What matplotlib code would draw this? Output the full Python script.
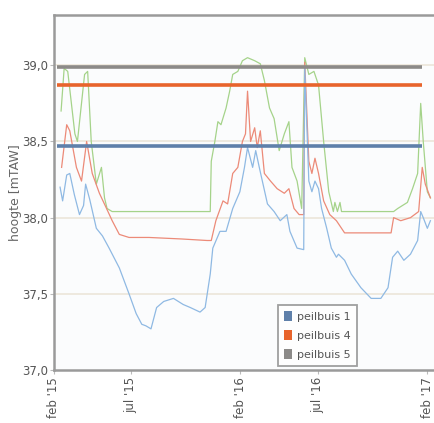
import datetime as dt
import matplotlib
matplotlib.use("Agg")
import matplotlib.pyplot as plt
from matplotlib.patches import Patch

plt.rcParams['font.family'] = ['Liberation Sans Narrow', 'DejaVu Sans']

START = dt.date(2015, 2, 1)

# ---- data (days since 1 Feb 2015, groundwater level m TAW) ----
p1_days = [12, 17, 25, 31, 40, 50, 58, 62, 70, 83, 95, 108, 128, 147, 161, 172, 180, 190,
           201, 215, 234, 253, 267, 286, 296, 306, 311, 325, 337, 350, 364, 373, 379, 389,
           395, 402, 408, 418, 431, 443, 456, 462, 476, 489, 491, 499, 505, 511, 518, 524,
           534, 543, 553, 557, 569, 582, 601, 621, 640, 654, 663, 673, 685, 698, 712, 718,
           723, 731, 737]
p1_vals = [38.20, 38.11, 38.28, 38.29, 38.15, 38.02, 38.08, 38.22, 38.12, 37.93, 37.88, 37.80,
           37.67, 37.50, 37.37, 37.30, 37.29, 37.27, 37.41, 37.45, 37.47, 37.43, 37.41, 37.38,
           37.41, 37.63, 37.80, 37.91, 37.91, 38.06, 38.17, 38.33, 38.46, 38.33, 38.44, 38.33,
           38.24, 38.09, 38.04, 37.98, 38.02, 37.91, 37.80, 37.79, 38.98, 38.24, 38.17, 38.24,
           38.19, 38.06, 37.93, 37.80, 37.74, 37.76, 37.72, 37.63, 37.54, 37.47, 37.47, 37.54,
           37.74, 37.78, 37.72, 37.76, 37.85, 38.04, 38.00, 37.93, 37.98]

p4_days = [15, 25, 31, 44, 54, 64, 75, 89, 103, 114, 128, 147, 186, 250, 300, 308, 317, 331,
           340, 350, 360, 369, 375, 379, 385, 393, 398, 404, 412, 424, 437, 451, 460, 470,
           480, 489, 491, 499, 505, 511, 518, 528, 540, 553, 569, 607, 660, 665, 679, 698,
           714, 721, 727, 737]
p4_vals = [38.33, 38.61, 38.57, 38.33, 38.24, 38.50, 38.29, 38.16, 38.06, 37.98, 37.89, 37.87,
           37.87, 37.86, 37.85, 37.85, 37.98, 38.11, 38.09, 38.29, 38.33, 38.50, 38.55, 38.83,
           38.50, 38.59, 38.46, 38.57, 38.29, 38.24, 38.19, 38.16, 38.19, 38.06, 38.02, 38.02,
           39.02, 38.37, 38.29, 38.39, 38.29, 38.11, 38.02, 37.98, 37.90, 37.90, 37.90, 38.00,
           37.98, 38.00, 38.04, 38.33, 38.22, 38.13]

p5_days = [14, 20, 27, 41, 46, 60, 66, 73, 83, 93, 99, 104, 114, 200, 306, 308, 315, 321,
           327, 337, 344, 350, 360, 369, 379, 393, 404, 412, 422, 431, 441, 451, 460, 466,
           476, 485, 491, 499, 509, 518, 528, 538, 547, 550, 555, 560, 563, 620, 665, 673,
           692, 702, 712, 718, 723, 731, 737]
p5_vals = [38.70, 38.98, 38.96, 38.55, 38.50, 38.94, 38.96, 38.50, 38.22, 38.33, 38.13, 38.06,
           38.04, 38.04, 38.04, 38.37, 38.50, 38.63, 38.61, 38.72, 38.83, 38.94, 38.96, 39.03,
           39.05, 39.03, 39.01, 38.90, 38.72, 38.65, 38.44, 38.55, 38.63, 38.33, 38.24, 38.06,
           39.05, 38.94, 38.96, 38.87, 38.50, 38.17, 38.04, 38.10, 38.04, 38.10, 38.04, 38.04,
           38.04, 38.06, 38.10, 38.19, 38.29, 38.75, 38.50, 38.17, 38.13]

# reference levels (horizontal bars)
ref_names = ['peilbuis 1', 'peilbuis 4', 'peilbuis 5']
ref_levels = [38.47, 38.87, 38.99]
ref_span_days = [6, 721]

xtick_dates = [dt.date(2015, 2, 1), dt.date(2015, 7, 1), dt.date(2016, 2, 1),
               dt.date(2016, 7, 1), dt.date(2017, 2, 1)]
xtick_labels = ["feb '15", "jul '15", "feb '16", "jul '16", "feb '17"]
ytick_vals = [37.0, 37.5, 38.0, 38.5, 39.0]
ytick_labels = ['37,0', '37,5', '38,0', '38,5', '39,0']


def to_dates(days):
    return [START + dt.timedelta(days=d) for d in days]


fig = plt.figure(figsize=(4.35, 4.23), dpi=100)
ax = fig.add_axes([0.124, 0.1253, 0.876, 0.8392])
ax.set_facecolor('#fbfcfd')

# gridlines
for v in ytick_vals[1:]:
    ax.axhline(v, color='#ece6da', lw=1.2, zorder=1)

series_colors = ['#8fb9e3', '#ec8a78', '#a5d38a']
ax.plot(to_dates(p5_days), p5_vals, color=series_colors[2], lw=0.9, zorder=2)
ax.plot(to_dates(p4_days), p4_vals, color=series_colors[1], lw=0.9, zorder=3)
ax.plot(to_dates(p1_days), p1_vals, color=series_colors[0], lw=0.9, zorder=4)

ref_colors = ['#5f80aa', '#e8642c', '#8c8a88']
span = to_dates(ref_span_days)
for lvl, c in zip(ref_levels, ref_colors):
    ax.plot(span, [lvl, lvl], color=c, lw=2.6, solid_capstyle='butt', zorder=5)

ax.set_xlim(START, START + dt.timedelta(days=746))
ax.set_ylim(37.0, 39.33)

ax.set_xticks(xtick_dates)
ax.set_xticklabels(xtick_labels, rotation=90, fontsize=8.5, color='#555555')
ax.set_yticks(ytick_vals)
ax.set_yticklabels(ytick_labels, fontsize=8.5, color='#555555')
ax.tick_params(axis='both', length=3, width=0.8, color='#bbbbbb', pad=1.5)
ax.tick_params(axis='x', pad=2)

for s in ['left', 'bottom', 'top']:
    ax.spines[s].set_color('#9a9a9a')
    ax.spines[s].set_linewidth(1.8)
ax.spines['right'].set_visible(False)

ax.set_ylabel('hoogte [mTAW]', fontsize=9, color='#666666')
ax.yaxis.set_label_coords(-0.085, 0.5)

handles = [Patch(facecolor=c, edgecolor='none') for c in ref_colors]
leg = ax.legend(handles, ref_names, loc='lower left', bbox_to_anchor=(0.588, 0.011),
                borderaxespad=0, fontsize=8, frameon=True, fancybox=False,
                handlelength=0.75, handleheight=0.95, handletextpad=0.45,
                borderpad=0.55, labelspacing=0.75)
leg.get_frame().set_edgecolor('#888888')
leg.get_frame().set_linewidth(1.3)
for t in leg.get_texts():
    t.set_color('#555555')

fig.savefig('out.png', dpi=100)
